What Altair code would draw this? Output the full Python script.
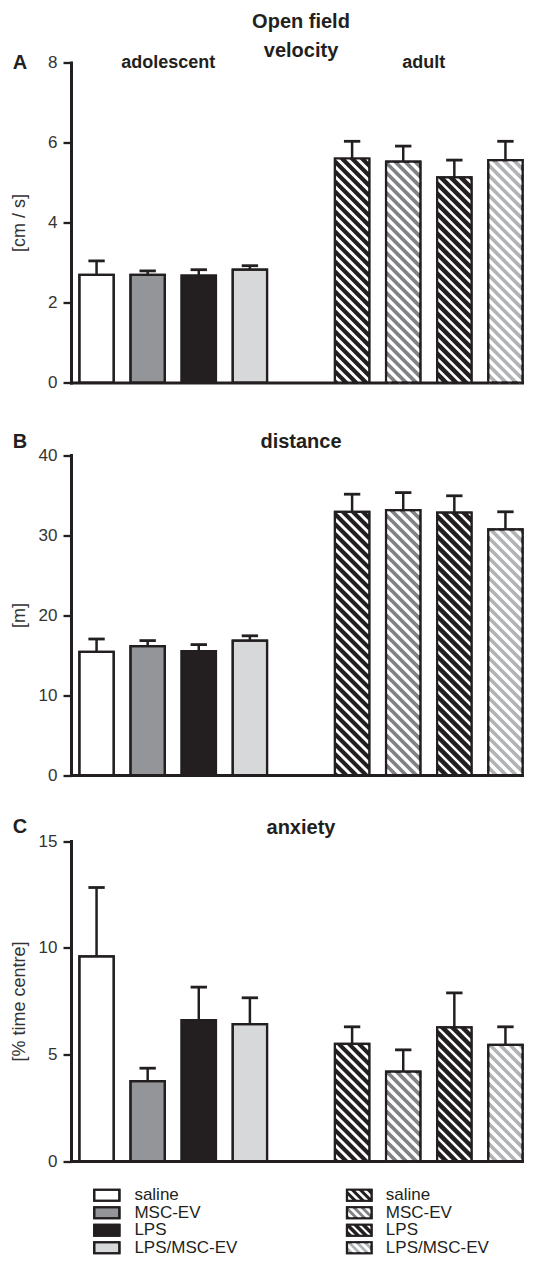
import math
import altair as alt
import pandas as pd

# ---------------- data ----------------
treatments = ["saline", "MSC-EV", "LPS", "LPS/MSC-EV"]
ages = ["adolescent", "adult"]

velocity_adolescent = [2.69, 2.69, 2.67, 2.82]
velocity_adolescent_sem = [0.35, 0.10, 0.15, 0.10]
velocity_adult = [5.60, 5.52, 5.13, 5.56]
velocity_adult_sem = [0.43, 0.39, 0.43, 0.47]

distance_adolescent = [15.4, 16.1, 15.5, 16.8]
distance_adolescent_sem = [1.6, 0.7, 0.8, 0.6]
distance_adult = [32.9, 33.1, 32.8, 30.7]
distance_adult_sem = [2.2, 2.2, 2.1, 2.2]

anxiety_adolescent = [9.59, 3.74, 6.60, 6.42]
anxiety_adolescent_sem = [3.23, 0.61, 1.55, 1.23]
anxiety_adult = [5.49, 4.19, 6.26, 5.44]
anxiety_adult_sem = [0.80, 1.02, 1.62, 0.85]

velocity_ticks = [0, 2, 4, 6, 8]
distance_ticks = [0, 10, 20, 30, 40]
anxiety_ticks = [0, 5, 10, 15]

# ---------------- styles / layout ----------------
INK = "#231f20"
LABEL = "#333333"
FONT = "Liberation Sans"
SOLID_FILL = {"saline": "#ffffff", "MSC-EV": "#939598", "LPS": "#231f20", "LPS/MSC-EV": "#d7d8da"}
HATCH_BASE = {"saline": "#231f20", "MSC-EV": "#808285", "LPS": "#231f20", "LPS/MSC-EV": "#b1b3b6"}
HATCH_WIDTH = {"saline": 3.0, "MSC-EV": 3.4, "LPS": 2.5, "LPS/MSC-EV": 3.4}
HATCH_PERIOD = 10.0

PW = 460.0
PH = 320.0
NSLOTS = 9
SX = PW / NSLOTS
BAR_HALF = 0.336
CAP_HALF = 0.16
SPACING = 25


def hatch_segments(x0, x1, y0, y1, sx, sy, period):
    """Diagonal '\\' stripes clipped to a rectangle given in data units."""
    X0, X1, Y0, Y1 = x0 * sx, x1 * sx, y0 * sy, y1 * sy
    out = []
    k = (math.floor((X0 + Y0) / period) + 1) * period
    while k < X1 + Y1:
        xa = max(X0, k - Y1)
        xb = min(X1, k - Y0)
        if xb > xa:
            out.append((xa / sx, (k - xa) / sy, xb / sx, (k - xb) / sy))
        k += period
    return out


def make_panel(adol, adol_sem, adult, adult_sem, ticks, ytitle, title, letter,
               extra, letter_y, title_offset, show_groups):
    ymax = ticks[-1]
    total_h = PH + extra
    sy = PH / ymax
    rows = []
    for a_i, (age, means, sems) in enumerate(
            [("adolescent", adol, adol_sem), ("adult", adult, adult_sem)]):
        for t_i, t in enumerate(treatments):
            c = a_i * (len(treatments) + 1) + t_i + 0.5
            hatched = age == "adult"
            rows.append(dict(age=age, treatment=t, xc=c, x0=c - BAR_HALF, x1=c + BAR_HALF,
                             cap0=c - CAP_HALF, cap1=c + CAP_HALF, base=0.0,
                             mean=means[t_i], top=means[t_i] + sems[t_i],
                             fill=HATCH_BASE[t] if hatched else SOLID_FILL[t],
                             hatched=hatched))
    bars = pd.DataFrame(rows)
    hrows = []
    for r in rows:
        if r["hatched"]:
            for xa, ya, xb, yb in hatch_segments(r["x0"], r["x1"], 0.0, r["mean"], SX, sy, HATCH_PERIOD):
                hrows.append(dict(hx=xa, hy=ya, hx2=xb, hy2=yb, sw=HATCH_WIDTH[r["treatment"]]))
    hatch = pd.DataFrame(hrows)

    xscale = alt.Scale(domain=[0, NSLOTS], nice=False, zero=False)
    yscale = alt.Scale(domain=[0, ymax], range=[total_h, extra], nice=False, zero=True)
    xaxis = alt.Axis(title=None, labels=False, ticks=False, grid=False,
                     domainWidth=3, domainColor=INK, domainCap="square")
    yaxis = alt.Axis(title=ytitle, values=ticks, grid=False, domainWidth=3, domainColor=INK,
                     domainCap="square", tickWidth=2.3, tickColor=INK, tickSize=8,
                     labelFontSize=17, labelColor=LABEL, labelFont=FONT, labelPadding=6,
                     titleFontSize=18, titleFontWeight="normal", titleColor=LABEL, titleFont=FONT,
                     titleX=-52, titleY=extra + PH / 2, titleAngle=270,
                     titleAlign="center", titleBaseline="middle")

    base = alt.Chart(bars)
    fills = base.mark_rect(stroke=INK, strokeWidth=2.2).encode(
        x=alt.X("x0:Q", scale=xscale, axis=xaxis), x2="x1:Q",
        y=alt.Y("mean:Q", scale=yscale, axis=yaxis), y2="base:Q",
        fill=alt.Fill("fill:N", scale=None))
    stripes = alt.Chart(hatch).mark_rule(color="white", strokeCap="butt").encode(
        x=alt.X("hx:Q", scale=xscale, axis=xaxis), x2="hx2:Q",
        y=alt.Y("hy:Q", scale=yscale, axis=yaxis), y2="hy2:Q",
        strokeWidth=alt.StrokeWidth("sw:Q", scale=None))
    outline = base.mark_rect(fillOpacity=0, stroke=INK, strokeWidth=2.2).encode(
        x=alt.X("x0:Q", scale=xscale, axis=xaxis), x2="x1:Q",
        y=alt.Y("mean:Q", scale=yscale, axis=yaxis), y2="base:Q")
    err = base.mark_rule(color=INK, strokeWidth=2.5).encode(
        x=alt.X("xc:Q", scale=xscale, axis=xaxis),
        y=alt.Y("mean:Q", scale=yscale, axis=yaxis), y2="top:Q")
    cap = base.mark_rule(color=INK, strokeWidth=2.8).encode(
        x=alt.X("cap0:Q", scale=xscale, axis=xaxis), x2="cap1:Q",
        y=alt.Y("top:Q", scale=yscale, axis=yaxis))
    let = alt.Chart(pd.DataFrame({"letter": [letter]})).mark_text(
        fontSize=20, fontWeight="bold", font=FONT, color=INK, align="center", baseline="middle"
    ).encode(text="letter:N", x=alt.value(-51), y=alt.value(letter_y))

    layers = [fills, stripes, outline, err, cap, let]
    if show_groups:
        gdf = bars.groupby("age", as_index=False)["xc"].mean()
        gdf["ymax"] = float(ymax)
        glab = alt.Chart(gdf).mark_text(fontSize=18, fontWeight="bold", font=FONT, color=INK,
                                        align="center", baseline="middle", dx=-5).encode(
            text="age:N", x=alt.X("xc:Q", scale=xscale, axis=xaxis),
            y=alt.Y("ymax:Q", scale=yscale, axis=yaxis))
        layers.append(glab)

    return alt.layer(*layers).properties(
        width=PW, height=total_h,
        title=alt.TitleParams(title, fontSize=20, fontWeight="bold", font=FONT, color=INK,
                              anchor="middle", frame="group", offset=title_offset))


def make_legend():
    LH = 70.0
    sy = LH / 4
    half = 5.5 / sy
    sw_x = {"adolescent": (0.454, 0.947), "adult": (5.40, 5.88)}
    lab_x = {"adolescent": 1.24, "adult": 6.16}
    rows, hrows = [], []
    for age in ages:
        for t_i, t in enumerate(treatments):
            yc = len(treatments) - t_i - 0.5
            hatched = age == "adult"
            x0, x1 = sw_x[age]
            rows.append(dict(label=t, x0=x0, x1=x1, y0=yc - half, y1=yc + half, yc=yc,
                             lx=lab_x[age], fill=HATCH_BASE[t] if hatched else SOLID_FILL[t]))
            if hatched:
                for xa, ya, xb, yb in hatch_segments(x0, x1, yc - half, yc + half, SX, sy, 8.0):
                    hrows.append(dict(hx=xa, hy=ya, hx2=xb, hy2=yb, sw=HATCH_WIDTH[t] * 0.85))
    df = pd.DataFrame(rows)
    hdf = pd.DataFrame(hrows)
    xs = alt.Scale(domain=[0, NSLOTS], nice=False, zero=False)
    ys = alt.Scale(domain=[0, 4], nice=False, zero=False)
    fills = alt.Chart(df).mark_rect(stroke=INK, strokeWidth=2.2).encode(
        x=alt.X("x0:Q", scale=xs, axis=None), x2="x1:Q",
        y=alt.Y("y0:Q", scale=ys, axis=None), y2="y1:Q",
        fill=alt.Fill("fill:N", scale=None))
    stripes = alt.Chart(hdf).mark_rule(color="white", strokeCap="butt").encode(
        x=alt.X("hx:Q", scale=xs, axis=None), x2="hx2:Q",
        y=alt.Y("hy:Q", scale=ys, axis=None), y2="hy2:Q",
        strokeWidth=alt.StrokeWidth("sw:Q", scale=None))
    outline = alt.Chart(df).mark_rect(fillOpacity=0, stroke=INK, strokeWidth=2.2).encode(
        x=alt.X("x0:Q", scale=xs, axis=None), x2="x1:Q",
        y=alt.Y("y0:Q", scale=ys, axis=None), y2="y1:Q")
    text = alt.Chart(df).mark_text(fontSize=17, font=FONT, color=INK, align="left",
                                   baseline="middle").encode(
        x=alt.X("lx:Q", scale=xs, axis=None), y=alt.Y("yc:Q", scale=ys, axis=None),
        text="label:N")
    return alt.layer(fills, stripes, outline, text).properties(width=PW, height=LH)


EXTRA_B = 72.5 - SPACING
EXTRA_C = 65.5 - SPACING
panel_a = make_panel(velocity_adolescent, velocity_adolescent_sem, velocity_adult, velocity_adult_sem,
                     velocity_ticks, "[cm / s]", "velocity", "A", 0.0, 0.0, -8, True)
panel_b = make_panel(distance_adolescent, distance_adolescent_sem, distance_adult, distance_adult_sem,
                     distance_ticks, "[m]", "distance", "B", EXTRA_B, EXTRA_B - 13.5, 3 - EXTRA_B, False)
panel_c = make_panel(anxiety_adolescent, anxiety_adolescent_sem, anxiety_adult, anxiety_adult_sem,
                     anxiety_ticks, "[% time centre]", "anxiety", "C", EXTRA_C, EXTRA_C - 14.0, 3 - EXTRA_C, False)
legend = make_legend()

chart = alt.vconcat(panel_a, panel_b, panel_c, legend, spacing=SPACING, bounds="flush").properties(
    title=alt.TitleParams("Open field", fontSize=20, fontWeight="bold", font=FONT, color=INK,
                          anchor="middle", frame="group", offset=9),
    padding={"left": 2, "top": 3.5, "right": -7, "bottom": 0},
).configure(font=FONT).configure_view(stroke=None)

chart.save("out.html", embed_options={"renderer": "svg", "actions": False})
